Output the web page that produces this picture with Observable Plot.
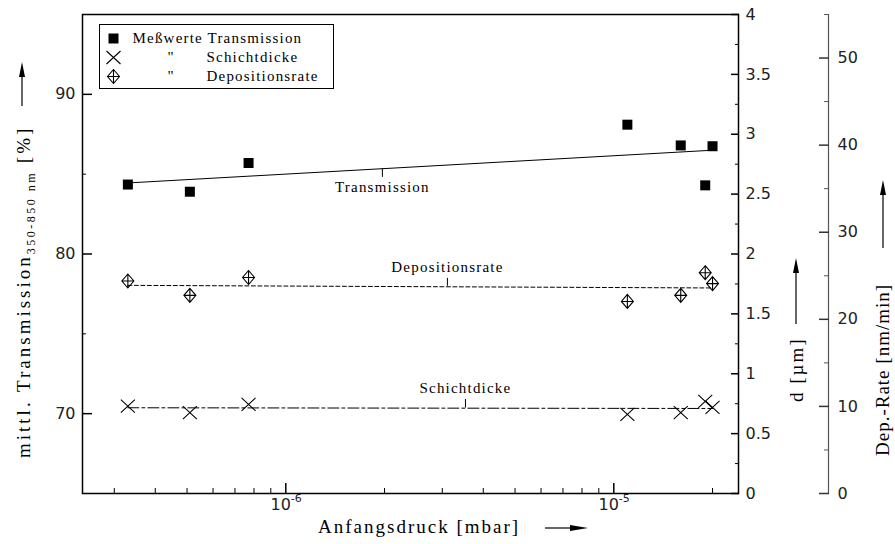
<!DOCTYPE html>
<html><head><meta charset="utf-8">
<script src="https://cdn.jsdelivr.net/npm/d3@7"></script>
<script src="https://cdn.jsdelivr.net/npm/@observablehq/plot@0.6"></script>
<style>
body{margin:0;background:#fff}
#chart{position:relative;width:895px;height:544px}
g[font-family="Liberation Serif"] text{letter-spacing:1.2px}
</style>
</head><body><div id="chart"></div>
<script>
// ---- data ----
const pressure = [3.3e-7, 5.1e-7, 7.7e-7, 1.1e-5, 1.6e-5, 1.9e-5, 2.0e-5];
const transmission = [84.35, 83.9, 85.7, 88.1, 86.8, 84.3, 86.75];   // %
const thickness = [0.73, 0.675, 0.745, 0.66, 0.675, 0.77, 0.72];       // µm
const depRate = [24.4, 22.75, 24.8, 22.05, 22.75, 25.35, 24.1];        // nm/min
const fitPressure = [3.3e-7, 2.0e-5];
const fitTransmission = [84.45, 86.5];
const fitThickness = [0.716, 0.71];
const fitDepRate = [23.9, 23.6];

const xMajorTicks = [1e-6, 1e-5];
const xTickBase = "10";
const xTickExponents = ["-6", "-5"];
const xMinorTicks = [3e-7,4e-7,5e-7,6e-7,7e-7,8e-7,9e-7,2e-6,3e-6,4e-6,5e-6,6e-6,7e-6,8e-6,9e-6,2e-5];
const tMajorTicks = [70, 80, 90];
const tMinorTicks = [75, 85];
const dMajorTicks = [0, 0.5, 1, 1.5, 2, 2.5, 3, 3.5, 4];
const dTickLabels = ["0", "0.5", "1", "1.5", "2", "2.5", "3", "3.5", "4"];
const dMinorTicks = [0.25, 0.75, 1.25, 1.75, 2.25, 2.75, 3.25, 3.75];
const rMajorTicks = [0, 10, 20, 30, 40, 50];
const rMinorTicks = [5, 15, 25, 35, 45, 55];

const legendLabels = ["Meßwerte Transmission", "Schichtdicke", "Depositionsrate"];
const dittoLabel = "\"";
const annoLabels = ["Transmission", "Depositionsrate", "Schichtdicke"];
const annoUnit = ["t", "r", "d"];
const annoPressure = [1.97e-6, 3.11e-6, 3.53e-6];
const annoTextLevel = [84.2, 25.95, 0.877];
const annoTickFrom = [85.34, 23.8, 0.714];
const annoTickTo = [84.8, 24.7, 0.785];

// secondary axes mapped onto the primary (transmission) scale 65..95
const T0 = 65, T1 = 95, D1 = 4, R1 = 55;
const dToY = d => T0 + d * (T1 - T0) / D1;
const rToY = r => T0 + r * (T1 - T0) / R1;
const toY = {t: v => v, d: dToY, r: rToY};

const rows = pressure.map((p, i) => ({p, t: transmission[i], d: dToY(thickness[i]), r: rToY(depRate[i])}));
const fitRows = fitPressure.map((p, i) => ({p, t: fitTransmission[i], d: dToY(fitThickness[i]), r: rToY(fitDepRate[i])}));
const annoRows = annoLabels.map((label, i) => ({
  label, p: annoPressure[i],
  y: toY[annoUnit[i]](annoTextLevel[i]),
  y1: toY[annoUnit[i]](annoTickFrom[i]),
  y2: toY[annoUnit[i]](annoTickTo[i])
}));

const dTickRows = dMajorTicks.map((d, i) => ({y: dToY(d), label: dTickLabels[i]}));
const rTickRows = rMajorTicks.map(r => ({y: rToY(r), label: String(r)}));
const xTickRows = xMajorTicks.map((x, i) => ({x, base: xTickBase, exp: xTickExponents[i]}));

// custom symbols
const squareSym = {draw(c) { c.rect(-5, -5, 10, 10); }};
const crossSym = {draw(c) { c.moveTo(-7, -6.5); c.lineTo(7, 6.5); c.moveTo(-7, 6.5); c.lineTo(7, -6.5); }};
const diamondSym = {draw(c) {
  c.moveTo(0, -7); c.lineTo(6, 0); c.lineTo(0, 7); c.lineTo(-6, 0); c.closePath();
  c.moveTo(0, -7); c.lineTo(0, 7); c.moveTo(-6, 0); c.lineTo(6, 0);
}};

const serif = "Liberation Serif";
const sans = "DejaVu Sans";

// legend marks
const legendSymbols = [
  {symbol: squareSym, fill: "black", stroke: "none"},
  {symbol: crossSym, fill: "none", stroke: "black"},
  {symbol: diamondSym, fill: "none", stroke: "black"}
];
const legendMarks = [];
legendLabels.forEach((label, i) => {
  const dy = 24 + i * 19;
  legendMarks.push(Plot.dot([label], {frameAnchor: "top-left", dx: 31, dy, r: 4, strokeWidth: 1.1, ...legendSymbols[i]}));
  legendMarks.push(Plot.text([label], {frameAnchor: "top-left", dx: i === 0 ? 50 : 124, dy, text: d => d,
    textAnchor: "start", lineAnchor: "middle", fontFamily: serif, fontSize: 15}));
  if (i > 0) legendMarks.push(Plot.text([dittoLabel], {frameAnchor: "top-left", dx: 85, dy, text: d => d,
    textAnchor: "start", lineAnchor: "middle", fontFamily: serif, fontSize: 15}));
});

const tickOnly = {fill: "none", label: null};

const svg = Plot.plot({
  width: 895, height: 544,
  marginLeft: 82, marginRight: 157, marginTop: 14, marginBottom: 51,
  x: {type: "log", domain: [2.4e-7, 2.4e-5], axis: null},
  y: {domain: [T0, T1], axis: null},
  style: {fontFamily: sans, fontSize: "16px", background: "white", color: "black"},
  marks: [
    // fit lines
    Plot.line(fitRows, {x: "p", y: "t", stroke: "black", strokeWidth: 1}),
    Plot.line(fitRows, {x: "p", y: "r", stroke: "black", strokeWidth: 1, strokeDasharray: "4,2.5"}),
    Plot.line(fitRows, {x: "p", y: "d", stroke: "black", strokeWidth: 1, strokeDasharray: "11,3,3,3"}),
    // measured points
    Plot.dot(rows, {x: "p", y: "t", symbol: squareSym, fill: "black", stroke: "none"}),
    Plot.dot(rows, {x: "p", y: "d", symbol: crossSym, fill: "none", stroke: "black", strokeWidth: 1.1}),
    Plot.dot(rows, {x: "p", y: "r", symbol: diamondSym, fill: "none", stroke: "black", strokeWidth: 1.1}),
    // annotations
    Plot.ruleX(annoRows, {x: "p", y1: "y1", y2: "y2", stroke: "black", strokeWidth: 1}),
    Plot.text(annoRows, {x: "p", y: "y", text: "label", fontFamily: serif, fontSize: 15, lineAnchor: "middle"}),
    // legend
    Plot.frame({insetLeft: 17, insetTop: 10, insetRight: 405, insetBottom: 405, stroke: "black", strokeWidth: 1}),
    ...legendMarks,
    // bottom axis
    Plot.axisX(xMajorTicks, {tickSize: -10, strokeWidth: 1.5, ...tickOnly}),
    Plot.axisX(xMinorTicks, {tickSize: -5, strokeWidth: 1, ...tickOnly}),
    Plot.text(xTickRows, {x: "x", frameAnchor: "bottom", dx: -5, dy: 16, text: "base", fontSize: 16, fill: "#222"}),
    Plot.text(xTickRows, {x: "x", frameAnchor: "bottom", dx: 5, dy: 8, text: "exp", textAnchor: "start", fontSize: 11, fill: "#222"}),
    // left axis
    Plot.axisY(tMajorTicks, {anchor: "left", tickSize: -10, strokeWidth: 1.5, ...tickOnly}),
    Plot.axisY(tMinorTicks, {anchor: "left", tickSize: -4, strokeWidth: 1, ...tickOnly}),
    Plot.text(tMajorTicks, {y: d => d, frameAnchor: "left", dx: -7, textAnchor: "end", text: d => String(d), fontSize: 16, fill: "#222"}),
    // d axis (right frame)
    Plot.axisY(dMajorTicks.map(dToY), {anchor: "right", tickSize: -8, strokeWidth: 1.5, ...tickOnly}),
    Plot.axisY(dMinorTicks.map(dToY), {anchor: "right", tickSize: -4, strokeWidth: 1, ...tickOnly}),
    Plot.text(dTickRows, {y: "y", frameAnchor: "right", dx: 7, textAnchor: "start", text: "label", fontSize: 16, fill: "#222"}),
    // rate axis (offset)
    Plot.frame({anchor: "right", dx: 90, stroke: "#555", strokeWidth: 1.2}),
    Plot.axisY(rMajorTicks.map(rToY), {anchor: "right", dx: 90, tickSize: -10, stroke: "#333", strokeWidth: 1.5, ...tickOnly}),
    Plot.axisY(rMinorTicks.map(rToY), {anchor: "right", dx: 90, tickSize: -5, stroke: "#555", strokeWidth: 1, ...tickOnly}),
    Plot.text(rTickRows, {y: "y", frameAnchor: "right", dx: 99, textAnchor: "start", text: "label", fontSize: 16, fill: "#222"}),
    // frame
    Plot.frame({stroke: "black", strokeWidth: 1.5})
  ]
});
document.getElementById("chart").appendChild(svg);

// ---- axis titles with arrows ----
const s = d3.select(svg);
function vArrowUp(x, yBottom, yTip) {
  s.append("line").attr("x1", x).attr("x2", x).attr("y1", yBottom).attr("y2", yTip + 12).attr("stroke", "black").attr("stroke-width", 1.2);
  s.append("path").attr("d", `M${x},${yTip} L${x + 3},${yTip + 15} L${x - 3},${yTip + 15} Z`).attr("fill", "black");
}
function hArrowRight(y, xStart, xTip) {
  s.append("line").attr("y1", y).attr("y2", y).attr("x1", xStart).attr("x2", xTip - 12).attr("stroke", "black").attr("stroke-width", 1.2);
  s.append("path").attr("d", `M${xTip},${y} L${xTip - 18},${y - 3} L${xTip - 18},${y + 3} Z`).attr("fill", "black");
}
function title(transform, spacing) {
  return s.append("text").attr("transform", transform).attr("text-anchor", "start")
    .attr("font-family", serif).attr("font-size", 19).attr("letter-spacing", spacing + "px");
}
// bottom
title("translate(318,533)", 2).text("Anfangsdruck [mbar]");
hArrowRight(528, 545, 588);
// left
const lt = title("translate(30,458) rotate(-90)", 3);
lt.append("tspan").text("mittl. Transmission");
lt.append("tspan").attr("font-size", 12).attr("letter-spacing", "2.5px").attr("dy", 5).text("350-850 nm");
lt.append("tspan").attr("dy", -5).text(" [%]");
vArrowUp(22, 106, 62);
// d axis
title("translate(803,402) rotate(-90)", 2).text("d [µm]");
vArrowUp(796, 324, 258);
// rate axis
title("translate(889,456) rotate(-90)", 1).text("Dep.-Rate [nm/min]");
vArrowUp(883, 248, 180);
</script>
</body></html>
